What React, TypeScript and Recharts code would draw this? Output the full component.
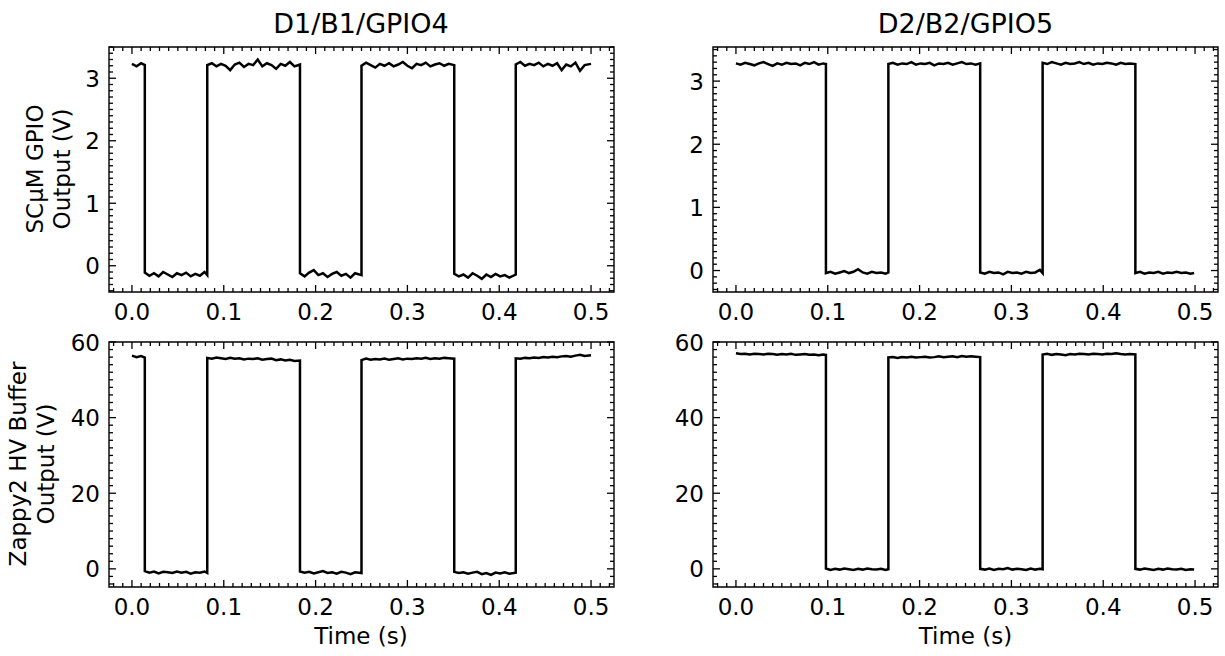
import * as React from "react"
import { LineChart, Line, XAxis, YAxis, ReferenceArea } from "recharts"

// sample times shared by the two D1 panels and the two D2 panels
const d1Time = [
  0.000, 0.005, 0.010, 0.014,
  0.014, 0.019, 0.024, 0.029, 0.034, 0.039, 0.044, 0.049, 0.054, 0.059, 0.064, 0.069, 0.074, 0.079, 0.082,
  0.082, 0.087, 0.092, 0.097, 0.102, 0.107, 0.112, 0.117, 0.122, 0.127, 0.132, 0.137, 0.142, 0.147, 0.152, 0.157, 0.162, 0.167, 0.172, 0.177, 0.183,
  0.183, 0.188, 0.193, 0.198, 0.203, 0.208, 0.213, 0.218, 0.223, 0.228, 0.233, 0.238, 0.243, 0.250,
  0.250, 0.255, 0.260, 0.265, 0.270, 0.275, 0.280, 0.285, 0.290, 0.295, 0.300, 0.305, 0.310, 0.315, 0.320, 0.325, 0.330, 0.335, 0.340, 0.345, 0.351,
  0.351, 0.356, 0.361, 0.366, 0.371, 0.376, 0.381, 0.386, 0.391, 0.396, 0.401, 0.406, 0.411, 0.418,
  0.418, 0.423, 0.428, 0.433, 0.438, 0.443, 0.448, 0.453, 0.458, 0.463, 0.468, 0.473, 0.478, 0.483, 0.488, 0.493, 0.500,
]

const d2Time = [
  0.000, 0.005, 0.010, 0.015, 0.020, 0.025, 0.030, 0.035, 0.040, 0.045, 0.050, 0.055, 0.060, 0.065, 0.070, 0.075, 0.080, 0.085, 0.090, 0.095, 0.098,
  0.098, 0.103, 0.108, 0.113, 0.118, 0.123, 0.128, 0.133, 0.138, 0.143, 0.148, 0.153, 0.158, 0.163, 0.166,
  0.166, 0.171, 0.176, 0.181, 0.186, 0.191, 0.196, 0.201, 0.206, 0.211, 0.216, 0.221, 0.226, 0.231, 0.236, 0.241, 0.246, 0.251, 0.256, 0.261, 0.266,
  0.266, 0.271, 0.276, 0.281, 0.286, 0.291, 0.296, 0.301, 0.306, 0.311, 0.316, 0.321, 0.326, 0.331, 0.334,
  0.334, 0.339, 0.344, 0.349, 0.354, 0.359, 0.364, 0.369, 0.374, 0.379, 0.384, 0.389, 0.394, 0.399, 0.404, 0.409, 0.414, 0.419, 0.424, 0.429, 0.435,
  0.435, 0.440, 0.445, 0.450, 0.455, 0.460, 0.465, 0.470, 0.475, 0.480, 0.485, 0.490, 0.495, 0.499,
]

// D1/B1/GPIO4, SCuM GPIO output (V)
const d1Gpio = [
  3.23, 3.19, 3.24, 3.21,
  -0.11, -0.16, -0.12, -0.17, -0.10, -0.14, -0.18, -0.12, -0.15, -0.11, -0.17, -0.13, -0.16, -0.10, -0.15,
  3.21, 3.24, 3.19, 3.23, 3.20, 3.13, 3.22, 3.25, 3.18, 3.23, 3.21, 3.30, 3.19, 3.24, 3.21, 3.15, 3.23, 3.20, 3.26, 3.19, 3.22,
  -0.12, -0.17, -0.11, -0.07, -0.15, -0.12, -0.18, -0.13, -0.10, -0.16, -0.13, -0.19, -0.12, -0.15,
  3.20, 3.25, 3.21, 3.17, 3.23, 3.20, 3.24, 3.19, 3.22, 3.26, 3.20, 3.16, 3.23, 3.21, 3.25, 3.19, 3.22, 3.24, 3.20, 3.23, 3.21,
  -0.13, -0.17, -0.14, -0.19, -0.12, -0.16, -0.21, -0.14, -0.18, -0.13, -0.17, -0.15, -0.19, -0.14,
  3.22, 3.26, 3.20, 3.23, 3.21, 3.25, 3.19, 3.23, 3.20, 3.24, 3.13, 3.22, 3.19, 3.25, 3.12, 3.21, 3.23,
]

// D1/B1/GPIO4, Zappy2 HV buffer output (V)
const d1Hv = [
  56.4, 56.0, 56.3, 55.9,
  -0.6, -1.0, -0.7, -1.2, -0.8, -0.9, -1.1, -0.7, -1.0, -0.8, -1.3, -0.9, -1.0, -0.7, -1.1,
  55.8, 55.6, 55.9, 55.7, 55.5, 55.8, 55.6, 55.7, 55.4, 55.6, 55.5, 55.7, 55.3, 55.5, 55.6, 55.2, 55.4, 55.1, 55.3, 55.0, 55.1,
  -0.7, -1.0, -0.8, -1.2, -0.9, -0.6, -1.1, -0.9, -1.3, -0.8, -1.0, -1.4, -0.9, -1.1,
  55.2, 55.6, 55.3, 55.5, 55.4, 55.6, 55.3, 55.5, 55.7, 55.4, 55.6, 55.5, 55.7, 55.6, 55.8, 55.5, 55.7, 55.6, 55.8, 55.7, 55.6,
  -0.8, -1.1, -0.9, -1.3, -1.0, -0.8, -1.4, -1.1, -1.6, -1.0, -1.2, -0.9, -1.3, -1.0,
  55.7, 55.6, 55.8, 55.7, 55.9, 55.8, 56.0, 55.9, 56.1, 56.0, 56.2, 56.3, 56.1, 56.4, 56.6, 56.3, 56.5,
]

// D2/B2/GPIO5, SCuM GPIO output (V)
const d2Gpio = [
  3.28, 3.26, 3.29, 3.27, 3.25, 3.28, 3.30, 3.27, 3.24, 3.28, 3.26, 3.29, 3.27, 3.28, 3.25, 3.29, 3.27, 3.30, 3.26, 3.28, 3.27,
  -0.04, -0.02, -0.05, -0.03, -0.01, -0.04, -0.02, 0.02, -0.03, -0.05, -0.02, -0.04, -0.03, -0.05, -0.03,
  3.27, 3.29, 3.26, 3.28, 3.27, 3.30, 3.26, 3.28, 3.27, 3.29, 3.25, 3.28, 3.27, 3.29, 3.26, 3.28, 3.30, 3.27, 3.28, 3.26, 3.28,
  -0.03, -0.05, -0.02, -0.04, -0.03, -0.06, -0.02, -0.04, -0.03, -0.05, -0.02, -0.04, -0.03, 0.01, -0.04,
  3.29, 3.27, 3.30, 3.28, 3.26, 3.29, 3.27, 3.28, 3.30, 3.27, 3.29, 3.26, 3.28, 3.27, 3.29, 3.28, 3.26, 3.29, 3.27, 3.28, 3.27,
  -0.04, -0.02, -0.05, -0.03, -0.04, -0.02, -0.05, -0.03, -0.04, -0.02, -0.04, -0.03, -0.05, -0.04,
]

// D2/B2/GPIO5, Zappy2 HV buffer output (V)
const d2Hv = [
  57.0, 56.8, 56.9, 56.7, 56.9, 56.8, 56.7, 56.9, 56.8, 56.6, 56.8, 56.7, 56.9, 56.6, 56.7, 56.8, 56.6, 56.7, 56.5, 56.7, 56.6,
  0.1, -0.3, 0.0, -0.2, 0.1, -0.1, -0.3, 0.0, -0.2, 0.1, -0.1, -0.2, 0.0, -0.3, -0.1,
  55.9, 56.0, 55.8, 56.0, 55.9, 56.1, 55.9, 56.0, 56.1, 55.9, 56.0, 56.2, 56.0, 56.1, 56.2, 56.0, 56.3, 56.1, 56.2, 56.1, 56.0,
  0.0, -0.2, 0.1, -0.3, 0.0, -0.1, 0.2, -0.2, 0.0, -0.1, -0.3, 0.1, -0.2, 0.0, -0.1,
  56.7, 56.9, 56.6, 56.8, 56.7, 56.5, 56.8, 56.7, 56.9, 56.8, 56.7, 56.9, 56.8, 56.7, 56.9, 56.8, 57.0, 56.8, 56.7, 56.8, 56.7,
  0.0, -0.2, 0.1, -0.1, -0.3, 0.0, -0.2, 0.1, -0.1, -0.2, 0.0, -0.3, -0.1, -0.2,
]

const timeTicks = [0, 0.1, 0.2, 0.3, 0.4, 0.5]
const gpioTicks = [0, 1, 2, 3]
const hvTicks = [0, 20, 40, 60]

const FONT = "DejaVu Sans"
const PLOT_W = 505
const PLOT_H = 245
const AXIS_W = 60
const AXIS_H = 40
const TOP_PAD = 15

const isMajor = (v: number, majors: number[]) => majors.some((m) => Math.abs(m - v) < 1e-9)

// minor ticks every tenth of a major step, inside the domain
const minorTicks = (lo: number, hi: number, step: number) => {
  const out: number[] = []
  for (let i = Math.ceil(lo / step - 1e-9); i <= Math.floor(hi / step + 1e-9); i++) {
    out.push(Number((i * step).toFixed(4)))
  }
  return out
}

const tickLen = (major: boolean) => (major ? 7 : 4)

// bottom axis tick: inward tick at the bottom, mirrored at the top, label below
const BottomTick = ({ x, y, payload, majors }: any) => {
  const major = isMajor(payload.value, majors)
  const len = tickLen(major)
  const top = y - PLOT_H
  return (
    <g>
      <line x1={x} y1={y} x2={x} y2={y - len} stroke="#000" strokeWidth={1.3} />
      <line x1={x} y1={top} x2={x} y2={top + len} stroke="#000" strokeWidth={1.3} />
      {major && (
        <text x={x} y={y + 27.5} textAnchor="middle" fontSize={23} fontFamily={FONT} fill="#000">
          {payload.value.toFixed(1)}
        </text>
      )}
    </g>
  )
}

// left axis tick: inward tick at the left, mirrored at the right, label to the left
const LeftTick = ({ x, y, payload, majors }: any) => {
  const major = isMajor(payload.value, majors)
  const len = tickLen(major)
  const right = x + PLOT_W
  return (
    <g>
      <line x1={x} y1={y} x2={x + len} y2={y} stroke="#000" strokeWidth={1.3} />
      <line x1={right} y1={y} x2={right - len} y2={y} stroke="#000" strokeWidth={1.3} />
      {major && (
        <text x={x - 9} y={y + 8.5} textAnchor="end" fontSize={23} fontFamily={FONT} fill="#000">
          {String(payload.value)}
        </text>
      )}
    </g>
  )
}

interface PanelProps {
  left: number
  top: number
  time: number[]
  volts: number[]
  yDomain: [number, number]
  yMajors: number[]
  yStep: number
}

const xDomain: [number, number] = [-0.025, 0.525]

function Panel({ left, top, time, volts, yDomain, yMajors, yStep }: PanelProps) {
  const data = time.map((t, i) => ({ t, v: volts[i] }))
  const xTicks = minorTicks(xDomain[0], xDomain[1], 0.01)
  const yTicks = minorTicks(yDomain[0], yDomain[1], yStep)

  return (
    <div style={{ position: "absolute", left: left - AXIS_W, top: top - TOP_PAD }}>
      <LineChart
        width={AXIS_W + PLOT_W + 6}
        height={TOP_PAD + PLOT_H + AXIS_H}
        data={data}
        margin={{ top: TOP_PAD, right: 6, bottom: 0, left: 0 }}
      >
        <XAxis
          dataKey="t"
          type="number"
          domain={xDomain}
          allowDataOverflow
          ticks={xTicks}
          interval={0}
          height={AXIS_H}
          tickSize={0}
          tickMargin={0}
          axisLine={false}
          tickLine={false}
          tick={(p: any) => <BottomTick {...p} majors={timeTicks} />}
        />
        <YAxis
          dataKey="v"
          type="number"
          domain={yDomain}
          allowDataOverflow
          ticks={yTicks}
          interval={0}
          width={AXIS_W}
          tickSize={0}
          tickMargin={0}
          axisLine={false}
          tickLine={false}
          tick={(p: any) => <LeftTick {...p} majors={yMajors} />}
        />
        <ReferenceArea
          x1={xDomain[0]}
          x2={xDomain[1]}
          y1={yDomain[0]}
          y2={yDomain[1]}
          fill="none"
          stroke="#000"
          strokeWidth={1.4}
          ifOverflow="visible"
        />
        <Line
          dataKey="v"
          type="linear"
          stroke="#000"
          strokeWidth={2.5}
          strokeLinejoin="miter"
          dot={false}
          isAnimationActive={false}
        />
      </LineChart>
    </div>
  )
}

export default function App() {
  const txt = { fontFamily: FONT, fill: "#000" }
  return (
    <div style={{ position: "absolute", left: 0, top: 0, width: 1225, height: 656, background: "#fff", overflow: "hidden" }}>
      <Panel left={108.5} top={46.5} time={d1Time} volts={d1Gpio} yDomain={[-0.42, 3.5]} yMajors={gpioTicks} yStep={0.1} />
      <Panel left={713} top={46.5} time={d2Time} volts={d2Gpio} yDomain={[-0.34, 3.54]} yMajors={gpioTicks} yStep={0.1} />
      <Panel left={108.5} top={341.5} time={d1Time} volts={d1Hv} yDomain={[-4.8, 60]} yMajors={hvTicks} yStep={2} />
      <Panel left={713} top={341.5} time={d2Time} volts={d2Hv} yDomain={[-4.8, 60]} yMajors={hvTicks} yStep={2} />

      <svg width={1225} height={656} style={{ position: "absolute", left: 0, top: 0, pointerEvents: "none" }}>
        <text x={361} y={32.5} textAnchor="middle" fontSize={27} {...txt}>D1/B1/GPIO4</text>
        <text x={965.5} y={32.5} textAnchor="middle" fontSize={27} {...txt}>D2/B2/GPIO5</text>

        <text transform="translate(43,169) rotate(-90)" textAnchor="middle" fontSize={23} {...txt}>SCμM GPIO</text>
        <text transform="translate(70,169) rotate(-90)" textAnchor="middle" fontSize={23} {...txt}>Output (V)</text>
        <text transform="translate(26,464) rotate(-90)" textAnchor="middle" fontSize={23} {...txt}>Zappy2 HV Buffer</text>
        <text transform="translate(53.5,464) rotate(-90)" textAnchor="middle" fontSize={23} {...txt}>Output (V)</text>

        <text x={361} y={644} textAnchor="middle" fontSize={23} {...txt}>Time (s)</text>
        <text x={965.5} y={644} textAnchor="middle" fontSize={23} {...txt}>Time (s)</text>
      </svg>
    </div>
  )
}
